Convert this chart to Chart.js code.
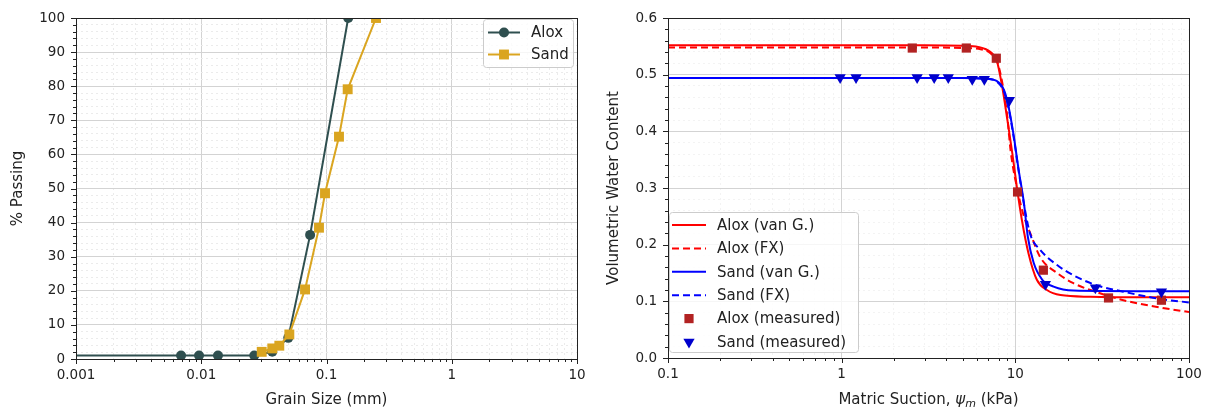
<!DOCTYPE html>
<html>
<head>
<meta charset="utf-8">
<script src="https://cdn.jsdelivr.net/npm/chart.js@4.4.1/dist/chart.umd.min.js"></script>
<style>
  html, body { margin: 0; padding: 0; background: #fff; }
  #wrap { position: relative; width: 1207px; height: 410px; }
  #wrap canvas { position: absolute; top: 0; }
</style>
</head>
<body>
<div id="wrap">
  <canvas id="gsd" width="600" height="410" style="left:0"></canvas>
  <canvas id="swcc" width="607" height="410" style="left:600px"></canvas>
</div>
<script>
// ---- grain size distribution (left) ----
const gsdDecades = [0.001, 0.01, 0.1, 1, 10];
const aloxSize    = [0.0001, 0.0069, 0.0096, 0.0136, 0.0265, 0.0369, 0.0495, 0.074, 0.149];
const aloxPassing = [1, 1, 1, 1, 1, 2.1, 6.2, 36.4, 100];
const sandSize    = [0.0304, 0.0369, 0.042, 0.0505, 0.0674, 0.0871, 0.0973, 0.1258, 0.1476, 0.2485];
const sandPassing = [2.1, 3.1, 3.9, 7.2, 20.4, 38.5, 48.6, 65.2, 79.1, 100];

// ---- water retention (right) ----
const swccDecades = [0.1, 1, 10, 100];

const aloxVgSuction = [0.1, 1, 3, 5, 6.1, 7.2, 7.8, 8.4, 9.0, 9.6, 10.2, 10.9, 11.9, 13.3, 15.2, 18.2, 27, 50, 100];
const aloxVgTheta   = [0.552, 0.552, 0.552, 0.551, 0.549, 0.540, 0.526, 0.479, 0.420, 0.362, 0.302, 0.244, 0.185, 0.138, 0.120, 0.111, 0.108, 0.107, 0.107];

const aloxFxSuction = [0.1, 1, 3, 5, 6.3, 7.3, 7.9, 8.5, 9.0, 9.4, 10.4, 11.2, 12.2, 13.9, 17.4, 21.6, 28.9, 41.9, 65.6, 100];
const aloxFxTheta   = [0.548, 0.548, 0.548, 0.547, 0.545, 0.536, 0.521, 0.478, 0.425, 0.365, 0.290, 0.250, 0.220, 0.178, 0.150, 0.132, 0.117, 0.102, 0.090, 0.081];

const sandVgSuction = [0.1, 1, 3, 5, 6.7, 7.8, 8.6, 9.15, 9.8, 10.45, 11.2, 11.8, 12.75, 14.3, 16.6, 21.6, 50, 100];
const sandVgTheta   = [0.494, 0.494, 0.494, 0.494, 0.493, 0.489, 0.473, 0.443, 0.391, 0.332, 0.274, 0.214, 0.168, 0.138, 0.126, 0.119, 0.118, 0.118];

const sandFxSuction = [0.1, 1, 3, 5, 6.7, 7.8, 8.6, 9.15, 9.8, 10.45, 11.2, 12.2, 13.9, 17.4, 21.6, 28.9, 41.9, 65.6, 100];
const sandFxTheta   = [0.494, 0.494, 0.494, 0.494, 0.493, 0.488, 0.470, 0.440, 0.388, 0.330, 0.272, 0.218, 0.191, 0.164, 0.146, 0.129, 0.117, 0.105, 0.098];

const aloxMeasSuction = [2.55, 5.22, 7.77, 10.3, 14.5, 34.4, 69.4];
const aloxMeasTheta   = [0.547, 0.547, 0.529, 0.293, 0.155, 0.106, 0.102];
const sandMeasSuction = [0.98, 1.21, 2.72, 3.41, 4.11, 5.65, 6.63, 9.24, 14.9, 28.9, 69.4];
const sandMeasTheta   = [0.495, 0.495, 0.495, 0.495, 0.495, 0.492, 0.492, 0.455, 0.13, 0.124, 0.117];

const pts = (xs, ys) => xs.map((x, i) => ({ x: x, y: ys[i] }));

Chart.defaults.font.family = '"DejaVu Sans", sans-serif';
Chart.defaults.color = '#222';

const isDecade = v => Math.abs(Math.log10(v) - Math.round(Math.log10(v))) < 1e-9;
// major + minor log ticks (1..9 per decade)
function logTicks(decades) {
  const out = [];
  decades.forEach((d, i) => {
    out.push(d);
    if (i < decades.length - 1) for (let k = 2; k <= 9; k++) out.push(d * k);
  });
  return out;
}

function drawMarker(ctx, style, r, x, y, rot) {
  ctx.beginPath();
  if (style === 'circle') {
    ctx.arc(x, y, r, 0, Math.PI * 2);
  } else if (style === 'rect') {
    const s = r * Math.SQRT1_2;
    ctx.rect(x - s, y - s, 2 * s, 2 * s);
  } else if (style === 'triangle') {
    let a = (rot || 0) * Math.PI / 180;
    ctx.moveTo(x + Math.sin(a) * r, y - Math.cos(a) * r);
    a += 2 * Math.PI / 3;
    ctx.lineTo(x + Math.sin(a) * r, y - Math.cos(a) * r);
    a += 2 * Math.PI / 3;
    ctx.lineTo(x + Math.sin(a) * r, y - Math.cos(a) * r);
    ctx.closePath();
  }
  ctx.fill();
}

// black box round the plot + outward tick marks (short for minor ticks)
const frame = {
  id: 'frame',
  afterDatasetsDraw(chart) {
    const { ctx, chartArea: a, scales } = chart;
    ctx.save();
    ctx.strokeStyle = '#222';
    ctx.lineWidth = 1;
    ctx.strokeRect(Math.round(a.left) + 0.5, Math.round(a.top) + 0.5,
      Math.round(a.right - a.left), Math.round(a.bottom - a.top));
    ctx.beginPath();
    scales.x.ticks.forEach(t => {
      const px = Math.round(scales.x.getPixelForValue(t.value)) + 0.5;
      const len = t.label ? 5 : 3;
      ctx.moveTo(px, a.bottom); ctx.lineTo(px, a.bottom + len);
    });
    scales.y.ticks.forEach(t => {
      const py = Math.round(scales.y.getPixelForValue(t.value)) + 0.5;
      const len = t.label ? 5 : 3;
      ctx.moveTo(a.left, py); ctx.lineTo(a.left - len, py);
    });
    ctx.stroke();
    ctx.restore();
  }
};

// matplotlib-like legend inside the axes
const boxLegend = {
  id: 'boxLegend',
  afterDraw(chart, args, o) {
    if (!o.rows) return;
    const ctx = chart.ctx;
    ctx.save();
    ctx.beginPath();
    ctx.roundRect(o.x + 0.5, o.y + 0.5, o.w, o.h, 3);
    ctx.fillStyle = 'rgba(255,255,255,0.8)';
    ctx.fill();
    ctx.strokeStyle = '#cccccc';
    ctx.lineWidth = 1;
    ctx.stroke();
    ctx.font = '15px "DejaVu Sans"';
    ctx.textBaseline = 'middle';
    o.rows.forEach((di, i) => {
      const ds = chart.data.datasets[di];
      const cy = o.y + o.first + i * o.step;
      if (ds.showLine !== false) {
        ctx.beginPath();
        ctx.setLineDash(ds.borderDash || []);
        ctx.strokeStyle = ds.borderColor;
        ctx.lineWidth = ds.borderWidth;
        ctx.moveTo(o.x + o.line0, cy);
        ctx.lineTo(o.x + o.line1, cy);
        ctx.stroke();
        ctx.setLineDash([]);
      }
      if (ds.pointRadius > 0) {
        ctx.fillStyle = ds.pointBackgroundColor;
        drawMarker(ctx, ds.pointStyle, ds.pointRadius, o.x + (o.line0 + o.line1) / 2, cy, ds.pointRotation);
      }
      ctx.fillStyle = '#222';
      ctx.fillText(ds.label, o.x + o.textX, cy + 1);
    });
    ctx.restore();
  }
};

// x title with italic psi and subscript m
const suctionTitle = {
  id: 'suctionTitle',
  afterDraw(chart) {
    const ctx = chart.ctx, sx = chart.scales.x;
    const parts = [
      ['Matric Suction, ', '15px "DejaVu Sans"', 0],
      ['\u03c8', 'italic 15px "DejaVu Sans"', 0],
      ['m', 'italic 11px "DejaVu Sans"', 4],
      [' (kPa)', '15px "DejaVu Sans"', 0]
    ];
    ctx.save();
    ctx.fillStyle = '#222';
    ctx.textBaseline = 'middle';
    let total = 0;
    parts.forEach(p => { ctx.font = p[1]; total += ctx.measureText(p[0]).width; });
    let x = (sx.left + sx.right) / 2 - total / 2;
    const y = chart.height - 10;
    parts.forEach(p => {
      ctx.font = p[1];
      ctx.fillText(p[0], x, y + p[2]);
      x += ctx.measureText(p[0]).width;
    });
    ctx.restore();
  }
};

const gridColor = (major, minor) => c => (c.tick && c.tick.label) ? major : minor;
const gridDash = c => (c.tick && c.tick.label) ? [] : [2, 3];

// ---------------- left chart ----------------
new Chart(document.getElementById('gsd'), {
  type: 'line',
  data: {
    datasets: [
      {
        label: 'Alox', data: pts(aloxSize, aloxPassing),
        borderColor: '#2f4f4f', backgroundColor: '#2f4f4f',
        pointBackgroundColor: '#2f4f4f', pointBorderColor: '#2f4f4f',
        pointStyle: 'circle', pointRadius: 5, pointBorderWidth: 0,
        borderWidth: 2, order: 2, clip: 0
      },
      {
        label: 'Sand', data: pts(sandSize, sandPassing),
        borderColor: '#daa520', backgroundColor: '#daa520',
        pointBackgroundColor: '#daa520', pointBorderColor: '#daa520',
        pointStyle: 'rect', pointRadius: 7, pointBorderWidth: 0,
        borderWidth: 2, order: 1, clip: 0
      }
    ]
  },
  options: {
    responsive: false,
    animation: false,
    layout: { padding: { left: 0, top: 18, right: 23, bottom: 0 } },
    plugins: {
      legend: { display: false },
      tooltip: { enabled: false },
      boxLegend: { rows: [0, 1], x: 483, y: 19, w: 90, h: 48, first: 13.5, step: 22, line0: 5, line1: 37, textX: 48 }
    },
    scales: {
      x: {
        type: 'logarithmic', min: 0.001, max: 10,
        afterBuildTicks: s => { s.ticks = logTicks(gsdDecades).map(v => ({ value: v })); },
        afterFit: s => { s.height = 51; },
        ticks: {
          autoSkip: false, maxRotation: 0, padding: 3, font: { size: 13.5 },
          callback: v => isDecade(v) ? String(Number(v.toPrecision(3))) : ''
        },
        grid: { color: gridColor('#d3d3d3', '#ebebeb'), tickLength: 5, tickColor: 'rgba(0,0,0,0)' },
        border: { display: false, dash: gridDash },
        title: { display: true, text: 'Grain Size (mm)', font: { size: 15 }, padding: { top: 0, bottom: 1 } }
      },
      y: {
        type: 'linear', min: 0, max: 100,
        afterFit: s => { s.width = 76; },
        ticks: {
          stepSize: 2, autoSkip: false, padding: 6, font: { size: 13.5 },
          callback: v => v % 10 === 0 ? String(v) : ''
        },
        grid: { color: gridColor('#d3d3d3', '#ebebeb'), tickLength: 5, tickColor: 'rgba(0,0,0,0)' },
        border: { display: false, dash: gridDash },
        title: { display: true, text: '% Passing', font: { size: 15 }, padding: { top: 9, bottom: 0 } }
      }
    }
  },
  plugins: [frame, boxLegend]
});

// ---------------- right chart ----------------
new Chart(document.getElementById('swcc'), {
  type: 'line',
  data: {
    datasets: [
      {
        label: 'Alox (van G.)', data: pts(aloxVgSuction, aloxVgTheta),
        borderColor: '#ff0000', borderWidth: 2, pointRadius: 0,
        cubicInterpolationMode: 'monotone', order: 5
      },
      {
        label: 'Alox (FX)', data: pts(aloxFxSuction, aloxFxTheta),
        borderColor: '#ff0000', borderWidth: 2, borderDash: [7, 4], pointRadius: 0,
        cubicInterpolationMode: 'monotone', order: 4
      },
      {
        label: 'Sand (van G.)', data: pts(sandVgSuction, sandVgTheta),
        borderColor: '#0000ff', borderWidth: 2, pointRadius: 0,
        cubicInterpolationMode: 'monotone', order: 3
      },
      {
        label: 'Sand (FX)', data: pts(sandFxSuction, sandFxTheta),
        borderColor: '#0000ff', borderWidth: 2, borderDash: [7, 4], pointRadius: 0,
        cubicInterpolationMode: 'monotone', order: 2
      },
      {
        label: 'Alox (measured)', data: pts(aloxMeasSuction, aloxMeasTheta),
        showLine: false, pointStyle: 'rect', pointRadius: 6.5, pointBorderWidth: 0,
        pointBackgroundColor: '#b22222', pointBorderColor: '#b22222', order: 1
      },
      {
        label: 'Sand (measured)', data: pts(sandMeasSuction, sandMeasTheta),
        showLine: false, pointStyle: 'triangle', pointRotation: 180, pointRadius: 6.5, pointBorderWidth: 0,
        pointBackgroundColor: '#0000cd', pointBorderColor: '#0000cd', order: 0
      }
    ]
  },
  options: {
    responsive: false,
    animation: false,
    layout: { padding: { left: 0, top: 18, right: 18, bottom: 0 } },
    plugins: {
      legend: { display: false },
      tooltip: { enabled: false },
      boxLegend: { rows: [0, 1, 2, 3, 4, 5], x: 69, y: 212, w: 189, h: 140, first: 13, step: 23.4, line0: 3, line1: 37, textX: 48 }
    },
    scales: {
      x: {
        type: 'logarithmic', min: 0.1, max: 100,
        afterBuildTicks: s => { s.ticks = logTicks(swccDecades).map(v => ({ value: v })); },
        afterFit: s => { s.height = 52; },
        ticks: {
          autoSkip: false, maxRotation: 0, padding: 3, font: { size: 13.5 },
          callback: v => isDecade(v) ? String(Number(v.toPrecision(3))) : ''
        },
        grid: { color: gridColor('#d3d3d3', '#f3f3f3'), tickLength: 5, tickColor: 'rgba(0,0,0,0)' },
        border: { display: false, dash: gridDash },
        title: { display: false }
      },
      y: {
        type: 'linear', min: 0, max: 0.6,
        afterFit: s => { s.width = 68; },
        ticks: {
          stepSize: 0.02, autoSkip: false, padding: 6, font: { size: 13.5 },
          callback: v => Math.round(v * 50) % 5 === 0 ? v.toFixed(1) : ''
        },
        grid: { color: gridColor('#d3d3d3', '#f3f3f3'), tickLength: 5, tickColor: 'rgba(0,0,0,0)' },
        border: { display: false, dash: gridDash },
        title: { display: true, text: 'Volumetric Water Content', font: { size: 15 }, padding: { top: 5, bottom: 0 } }
      }
    }
  },
  plugins: [frame, boxLegend, suctionTitle]
});
</script>
</body>
</html>
